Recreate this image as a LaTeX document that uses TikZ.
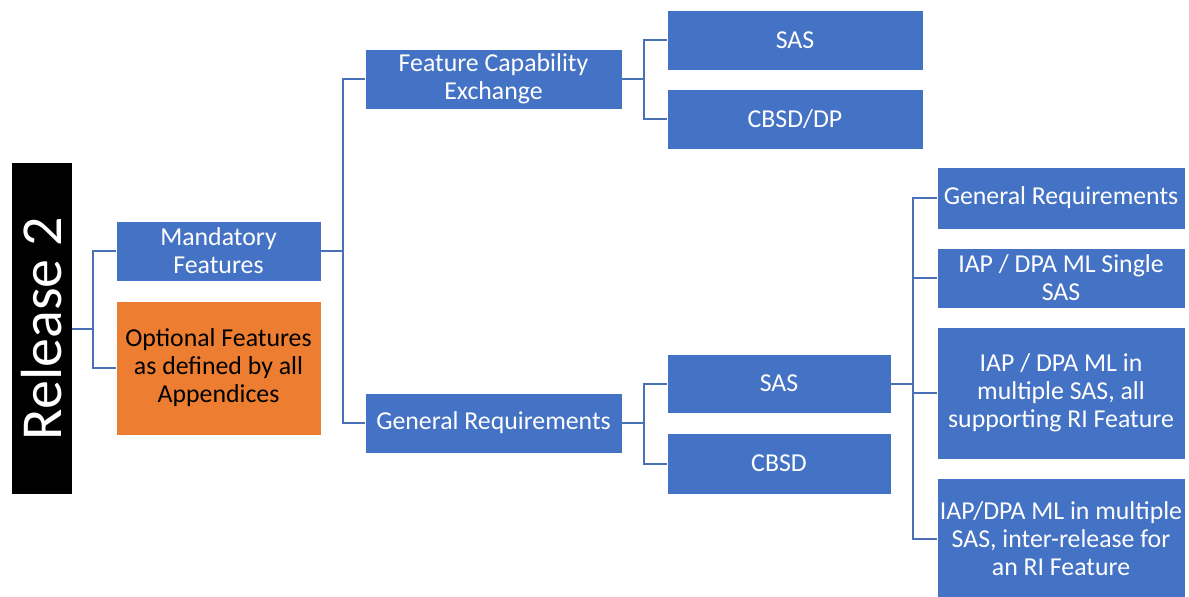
\documentclass[tikz,border=0pt]{standalone}
\usepackage{fontspec}
\setmainfont{Carlito}
\definecolor{bblue}{HTML}{4472C4}
\definecolor{borange}{HTML}{ED7D31}
\definecolor{lblue}{HTML}{4A70B8}
\begin{document}
\begin{tikzpicture}[x=1pt,y=-1pt,
  bbox/.style={draw=white, line width=0.8pt, fill=bblue, text=white, inner sep=0pt, align=center,
    font=\fontsize{25.8}{28}\selectfont},
  obox/.style={bbox, fill=borange, text=black},
  conn/.style={draw=lblue, line width=2pt}]
\useasboundingbox (0,0) rectangle (1189,597);
% Release 2
\node[fill=black, minimum width=60pt, minimum height=331pt, inner sep=0pt] (rel) at (42,328.5) {};
\node[rotate=90, text=white, font=\fontsize{58}{60}\selectfont, inner sep=0pt] (reltxt) at (42,328.5) {Release 2};
% level 1
\node[bbox, minimum width=205pt, minimum height=60pt] (mand) at (218.5,251) {Mandatory\\Features};
\node[obox, minimum width=205pt, minimum height=134pt] (opt) at (218.5,368) {Optional Features\\as defined by all\\Appendices};
% level 2
\node[bbox, minimum width=257pt, minimum height=60pt] (fce) at (493.5,79) {Feature Capability\\Exchange};
\node[bbox, minimum width=257pt, minimum height=60pt] (gr) at (493.5,423) {General Requirements};
% level 3
\node[bbox, minimum width=256pt, minimum height=60pt] (sas1) at (795,40) {SAS};
\node[bbox, minimum width=256pt, minimum height=60pt] (cbdp) at (795,119) {CBSD/DP};
\node[bbox, minimum width=224pt, minimum height=59pt] (sas2) at (779,383.5) {SAS};
\node[bbox, minimum width=224pt, minimum height=61pt] (cbsd) at (779,463.5) {CBSD};
% level 4
\node[bbox, minimum width=248pt, minimum height=62pt] (gr2) at (1061,198) {General Requirements};
\node[bbox, minimum width=248pt, minimum height=60pt] (iap1) at (1061,278) {IAP / DPA ML Single\\SAS};
\node[bbox, minimum width=248pt, minimum height=132pt] (iap2) at (1061,393) {IAP / DPA ML in\\multiple SAS, all\\supporting RI Feature};
\node[bbox, minimum width=248pt, minimum height=122pt] (iap3) at (1061,539) {IAP/DPA ML in multiple\\SAS, inter-release for\\an RI Feature};
% junctions
\coordinate (j1) at (93,328.5);
\coordinate (j2) at (343,251);
\coordinate (j3) at (644,79);
\coordinate (j4) at (644,423);
\coordinate (j5) at (913,383.5);
% connectors
\draw[conn] (rel.east) -- (j1);
\draw[conn] (j1) |- (mand.west);
\draw[conn] (j1) |- (opt.west);
\draw[conn] (mand.east) -- (j2);
\draw[conn] (j2) |- (fce.west);
\draw[conn] (j2) |- (gr.west);
\draw[conn] (fce.east) -- (j3);
\draw[conn] (j3) |- (sas1.west);
\draw[conn] (j3) |- (cbdp.west);
\draw[conn] (gr.east) -- (j4);
\draw[conn] (j4) |- (sas2.west);
\draw[conn] (j4) |- (cbsd.west);
\draw[conn] (sas2.east) -- (j5);
\draw[conn] (j5) |- (gr2.west);
\draw[conn] (j5) |- (iap1.west);
\draw[conn] (j5) |- (iap2.west);
\draw[conn] (j5) |- (iap3.west);
\end{tikzpicture}
\end{document}
